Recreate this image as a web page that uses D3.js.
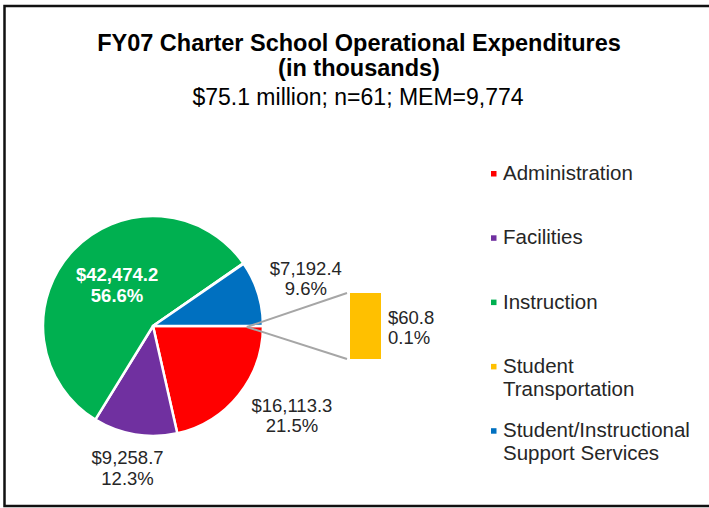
<!DOCTYPE html>
<html>
<head>
<meta charset="utf-8">
<script src="https://cdn.jsdelivr.net/npm/d3@7"></script>
<style>
  body { margin: 0; background: #fff; }
  svg { display: block; font-family: "Liberation Sans", Arial, sans-serif; }
</style>
</head>
<body>
<div id="drawing"></div>
<script>
// chart data (thousands of dollars)
var categories = ["Administration", "Facilities", "Instruction", "Student Transportation", "Student/Instructional Support Services"];
var amounts = [16113.3, 9258.7, 42474.2, 60.8, 7192.4];
var colors = ["#FF0000", "#7030A0", "#00B050", "#FFC000", "#0070C0"];
// which slice goes into the side bar
var barCategories = ["Student Transportation"];
var titleLines = ["FY07 Charter School Operational Expenditures", "(in thousands)"];
var subtitle = "$75.1 million; n=61; MEM=9,774";
var legendLines = [["Administration"], ["Facilities"], ["Instruction"], ["Student", "Transportation"], ["Student/Instructional", "Support Services"]];

var width = 709;
var height = 508;
var cx = 153, cy = 326, radius = 110;

// label placement: radius from pie centre + nudge
var labelPos = {
  "Administration": {r: 165, dx: 10, dy: -14},
  "Facilities": {r: 143, dx: -2, dy: 0},
  "Instruction": {r: 55, dx: 4, dy: -4},
  "Student/Instructional Support Services": {r: 160, dx: 0, dy: -1}
};

var data = categories.map(function(c, i) {
  return {name: c, value: amounts[i], color: colors[i]};
});
var total = d3.sum(amounts);
var fmtVal = d3.format(",.1f");
var fmtPct = d3.format(".1%");

var svg = d3.select("#drawing").append("svg")
  .attr("width", width)
  .attr("height", height);

// frame
svg.append("rect")
  .attr("x", 4.5).attr("y", 6)
  .attr("width", 720).attr("height", 500)
  .attr("fill", "none")
  .attr("stroke", "#111")
  .attr("stroke-width", 2.5);

// titles
var title = svg.append("g").attr("text-anchor", "middle");
title.selectAll("text.t")
  .data(titleLines)
  .enter().append("text")
  .attr("class", "t")
  .attr("x", 359)
  .attr("y", function(d, i) { return 51 + i * 25; })
  .attr("font-weight", "bold")
  .attr("font-size", 23.5)
  .attr("fill", "#000")
  .text(function(d) { return d; });
title.append("text")
  .attr("x", 358)
  .attr("y", 105)
  .attr("font-size", 23)
  .attr("fill", "#000")
  .text(subtitle);

// pie
var pie = d3.pie()
  .sort(null)
  .value(function(d) { return d.value; })
  .startAngle(Math.PI / 2)
  .endAngle(Math.PI / 2 + 2 * Math.PI);
var arcs = pie(data);

var arc = d3.arc().innerRadius(0).outerRadius(radius);

var pieG = svg.append("g").attr("transform", "translate(" + cx + "," + cy + ")");
pieG.selectAll("path")
  .data(arcs)
  .enter().append("path")
  .attr("d", arc)
  .attr("fill", function(d) { return d.data.color; })
  .attr("stroke", "#fff")
  .attr("stroke-width", 2.5)
  .attr("stroke-linejoin", "round");

// slice labels
var labelG = pieG.selectAll("g.lbl")
  .data(arcs.filter(function(d) { return labelPos[d.data.name]; }))
  .enter().append("g")
  .attr("class", "lbl")
  .attr("text-anchor", "middle")
  .attr("transform", function(d) {
    var p = labelPos[d.data.name];
    var c = d3.arc().innerRadius(p.r).outerRadius(p.r).centroid(d);
    return "translate(" + (c[0] + p.dx) + "," + (c[1] + p.dy) + ")";
  });
labelG.each(function(d) {
  var inside = d.data.name === "Instruction";
  var g = d3.select(this);
  [ "$" + fmtVal(d.data.value), fmtPct(d.data.value / total) ].forEach(function(t, i) {
    g.append("text")
      .attr("y", -3 + i * 20.5)
      .attr("font-size", 18.5)
      .attr("font-weight", inside ? "bold" : "normal")
      .attr("fill", inside ? "#fff" : "#262626")
      .text(t);
  });
});

// bar of pie
var barData = data.filter(function(d) { return barCategories.indexOf(d.name) >= 0; });
var barTotal = d3.sum(barData, function(d) { return d.value; });
var barX = 350, barW = 31;
var yBar = d3.scaleLinear().domain([0, barTotal]).range([359, 293]);

var stack = 0;
barData.forEach(function(d) { d.y0 = stack; stack += d.value; d.y1 = stack; });

// connector lines from pie edge to bar
var sliceArc = arcs.filter(function(d) { return barCategories.indexOf(d.data.name) >= 0; })[0];
var edge = d3.arc().innerRadius(radius + 4).outerRadius(radius + 4).centroid({startAngle: sliceArc.startAngle, endAngle: sliceArc.endAngle});
[yBar(barTotal), yBar(0)].forEach(function(yy) {
  svg.append("line")
    .attr("x1", cx + edge[0]).attr("y1", cy + 1)
    .attr("x2", barX - 3).attr("y2", yy)
    .attr("stroke", "#A6A6A6")
    .attr("stroke-width", 2);
});

svg.selectAll("rect.bar")
  .data(barData)
  .enter().append("rect")
  .attr("class", "bar")
  .attr("x", barX)
  .attr("width", barW)
  .attr("y", function(d) { return yBar(d.y1); })
  .attr("height", function(d) { return yBar(d.y0) - yBar(d.y1); })
  .attr("fill", function(d) { return d.color; });

barData.forEach(function(d) {
  var my = (yBar(d.y0) + yBar(d.y1)) / 2;
  [ "$" + fmtVal(d.value), fmtPct(d.value / total) ].forEach(function(t, i) {
    svg.append("text")
      .attr("x", barX + barW + 7)
      .attr("y", my - 2 + i * 20)
      .attr("font-size", 18.5)
      .attr("fill", "#262626")
      .text(t);
  });
});

// legend
var legend = svg.append("g");
var legItem = legend.selectAll("g")
  .data(data)
  .enter().append("g")
  .attr("transform", function(d, i) { return "translate(503," + (180 + i * 64.3) + ")"; });
legItem.append("rect")
  .attr("x", -12).attr("y", -9)
  .attr("width", 5.5).attr("height", 5.5)
  .attr("fill", function(d) { return d.color; });
legItem.each(function(d, i) {
  var g = d3.select(this);
  legendLines[i].forEach(function(t, j) {
    g.append("text")
      .attr("y", j * 23)
      .attr("font-size", 20.5)
      .attr("fill", "#262626")
      .text(t);
  });
});
</script>
</body>
</html>
